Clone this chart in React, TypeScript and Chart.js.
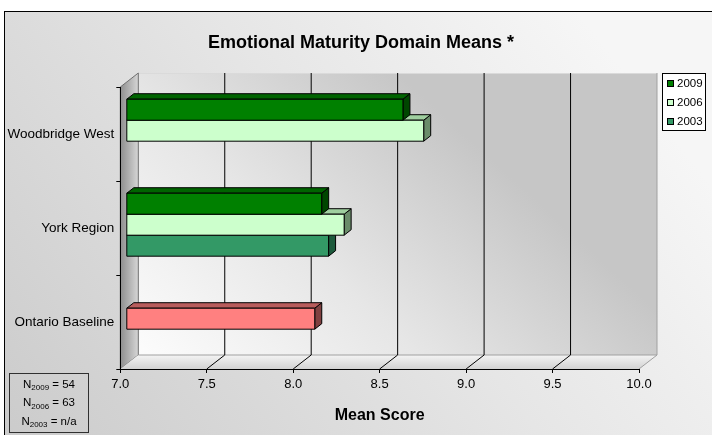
import React, { useEffect, useRef } from 'react';
import { Chart, registerables } from 'chart.js';

Chart.register(...registerables);

// ---------- data ----------
const categories = ['Woodbridge West', 'York Region', 'Ontario Baseline'];
const seriesNames = ['2009', '2006', '2003'];
const values2009: (number | null)[] = [8.6, 8.13, null];
const values2006: (number | null)[] = [8.72, 8.26, 8.09];
const values2003: (number | null)[] = [null, 8.17, null];
const xMin = 7.0;
const xMax = 10.0;
const xStep = 0.5;
const nYears = ['2009', '2006', '2003'];
const nValues = ['54', '63', 'n/a'];
const chartTitle = 'Emotional Maturity Domain Means *';
const xAxisTitle = 'Mean Score';

// ---------- styles ----------
const FONT = '"Liberation Sans", Arial, Helvetica, sans-serif';
const seriesFront = ['#008000', '#CCFFCC', '#339966'];
const seriesTop = ['#006400', '#9fcf9f', '#287a52'];
const seriesSide = ['#004600', '#6a8c6a', '#1d5a3c'];
const baselineFront = '#FF8080';
const baselineTop = '#b85c5c';
const baselineSide = '#804040';
const baselineIndex = 2; // Ontario Baseline drawn in its own colour

const WALL = { dx: 18, dy: -14 };
const BAR_OFF = { dx: 6, dy: -3.3 };
const BAR_DEPTH = { dx: 7, dy: -5.5 };

function faceColors(di: number, i: number) {
  if (i === baselineIndex) return { front: baselineFront, top: baselineTop, side: baselineSide };
  return { front: seriesFront[di], top: seriesTop[di], side: seriesSide[di] };
}

const decorPlugin = {
  id: 'decor',
  beforeDraw(chart: any) {
    const { ctx, chartArea: a } = chart;
    const W = chart.width;
    const H = chart.height;
    ctx.save();
    ctx.fillStyle = '#ffffff';
    ctx.fillRect(0, 0, W, H);
    const g = ctx.createLinearGradient(0, H, W * 0.8, 0);
    g.addColorStop(0, '#cbcbcb');
    g.addColorStop(0.6, '#e6e6e6');
    g.addColorStop(1, '#f6f6f6');
    ctx.fillStyle = g;
    ctx.fillRect(4.5, 11.5, W + 20, H + 20);
    ctx.strokeStyle = '#000';
    ctx.lineWidth = 1;
    ctx.strokeRect(4.5, 11.5, W + 20, H + 20);

    ctx.fillStyle = '#000';
    ctx.font = `bold 18px ${FONT}`;
    ctx.textAlign = 'center';
    ctx.textBaseline = 'middle';
    ctx.fillText(chartTitle, 361, 43);

    const L = a.left, R = a.right, T = a.top, B = a.bottom;
    const bL = L + WALL.dx, bR = R + WALL.dx, bT = T + WALL.dy, bB = B + WALL.dy;

    const gw = ctx.createLinearGradient(bL, bB, bL + 260, bT);
    gw.addColorStop(0, '#fcfcfc');
    gw.addColorStop(0.5, '#e6e6e6');
    gw.addColorStop(1, '#c6c6c6');
    ctx.fillStyle = gw;
    ctx.fillRect(bL, bT, bR - bL, bB - bT);
    ctx.strokeStyle = '#dadada';
    ctx.beginPath();
    ctx.moveTo(bL, bT + 0.5);
    ctx.lineTo(bR, bT + 0.5);
    ctx.stroke();

    const gs = ctx.createLinearGradient(L, 0, bL, 0);
    gs.addColorStop(0, '#8e8e8e');
    gs.addColorStop(1, '#d6d6d6');
    ctx.fillStyle = gs;
    ctx.beginPath();
    ctx.moveTo(L, T);
    ctx.lineTo(bL, bT);
    ctx.lineTo(bL, bB);
    ctx.lineTo(L, B);
    ctx.closePath();
    ctx.fill();
    ctx.strokeStyle = '#707070';
    ctx.stroke();

    const gf = ctx.createLinearGradient(0, bB, 0, B);
    gf.addColorStop(0, '#f4f4f4');
    gf.addColorStop(1, '#d2d2d2');
    ctx.fillStyle = gf;
    ctx.beginPath();
    ctx.moveTo(L, B);
    ctx.lineTo(R, B);
    ctx.lineTo(bR, bB);
    ctx.lineTo(bL, bB);
    ctx.closePath();
    ctx.fill();
    ctx.strokeStyle = '#a0a0a0';
    ctx.beginPath();
    ctx.moveTo(bL, bB);
    ctx.lineTo(bR, bB);
    ctx.lineTo(R, B);
    ctx.moveTo(bR, bB);
    ctx.lineTo(bR, bT);
    ctx.stroke();

    const xs = chart.scales.x;
    ctx.strokeStyle = '#000';
    ctx.lineWidth = 1;
    for (let v = xMin + xStep; v < xMax - 1e-9; v += xStep) {
      const px = xs.getPixelForValue(v);
      ctx.beginPath();
      ctx.moveTo(px + WALL.dx, bT);
      ctx.lineTo(px + WALL.dx, bB);
      ctx.moveTo(px, B);
      ctx.lineTo(px + WALL.dx, bB);
      ctx.stroke();
    }
    ctx.restore();
  },
  beforeDatasetsDraw(chart: any) {
    const ctx = chart.ctx;
    const bars: any[] = [];
    chart.data.datasets.forEach((ds: any, di: number) => {
      const meta = chart.getDatasetMeta(di);
      meta.data.forEach((el: any, i: number) => {
        if (ds.data[i] == null) return;
        const p = el.getProps(['x', 'y', 'base', 'height'], true);
        bars.push({ ...p, c: faceColors(di, i) });
      });
    });
    bars.sort((p, q) => q.y - p.y);
    ctx.save();
    ctx.lineWidth = 1;
    ctx.strokeStyle = '#000';
    ctx.lineJoin = 'round';
    for (const b of bars) {
      const x0 = b.base + BAR_OFF.dx;
      const x1 = b.x + BAR_OFF.dx;
      const yT = b.y - b.height / 2 + BAR_OFF.dy;
      const yB = b.y + b.height / 2 + BAR_OFF.dy;
      const dx = BAR_DEPTH.dx, dy = BAR_DEPTH.dy;
      ctx.fillStyle = b.c.side;
      ctx.beginPath();
      ctx.moveTo(x1, yT);
      ctx.lineTo(x1 + dx, yT + dy);
      ctx.lineTo(x1 + dx, yB + dy);
      ctx.lineTo(x1, yB);
      ctx.closePath();
      ctx.fill();
      ctx.stroke();
      ctx.fillStyle = b.c.top;
      ctx.beginPath();
      ctx.moveTo(x0, yT);
      ctx.lineTo(x0 + dx, yT + dy);
      ctx.lineTo(x1 + dx, yT + dy);
      ctx.lineTo(x1, yT);
      ctx.closePath();
      ctx.fill();
      ctx.stroke();
      ctx.fillStyle = b.c.front;
      ctx.fillRect(x0, yT, x1 - x0, yB - yT);
      ctx.strokeRect(x0, yT, x1 - x0, yB - yT);
    }
    ctx.restore();
    return false;
  },
  afterDraw(chart: any) {
    const ctx = chart.ctx;
    ctx.save();
    ctx.fillStyle = '#ffffff';
    ctx.fillRect(662.5, 73.5, 43, 57);
    ctx.strokeStyle = '#000';
    ctx.lineWidth = 1;
    ctx.strokeRect(662.5, 73.5, 43, 57);
    ctx.font = `11.5px ${FONT}`;
    ctx.textAlign = 'left';
    ctx.textBaseline = 'middle';
    seriesNames.forEach((name, k) => {
      const cy = 83.5 + k * 19;
      ctx.fillStyle = seriesFront[k];
      ctx.fillRect(667.5, cy - 3, 6, 6);
      ctx.strokeStyle = '#000';
      ctx.strokeRect(667.5, cy - 3, 6, 6);
      ctx.fillStyle = '#000';
      ctx.fillText(name, 677, cy + 0.5);
    });

    ctx.strokeStyle = '#303030';
    ctx.strokeRect(9.5, 373.5, 79, 59);
    const cx = 49;
    nYears.forEach((yr, k) => {
      const cy = 384.5 + k * 18.8;
      const big = `11.5px ${FONT}`;
      const small = `8px ${FONT}`;
      ctx.font = big;
      const wN = ctx.measureText('N').width;
      const rest = ` = ${nValues[k]}`;
      const wR = ctx.measureText(rest).width;
      ctx.font = small;
      const wS = ctx.measureText(yr).width;
      let x = cx - (wN + wS + wR) / 2;
      ctx.fillStyle = '#000';
      ctx.textBaseline = 'middle';
      ctx.font = big;
      ctx.fillText('N', x, cy);
      x += wN;
      ctx.font = small;
      ctx.fillText(yr, x, cy + 3);
      x += wS;
      ctx.font = big;
      ctx.fillText(rest, x, cy);
    });
    ctx.restore();
  },
};

export default function App() {
  const ref = useRef<HTMLCanvasElement | null>(null);
  useEffect(() => {
    if (!ref.current) return;
    Chart.defaults.font.family = FONT;
    Chart.defaults.color = '#000';
    const chart = new Chart(ref.current, {
      type: 'bar',
      data: {
        labels: categories,
        datasets: [
          { label: seriesNames[0], data: values2009, backgroundColor: seriesFront[0], base: xMin },
          {
            label: seriesNames[1],
            data: values2006,
            base: xMin,
            backgroundColor: categories.map((_, i) => (i === baselineIndex ? baselineFront : seriesFront[1])),
          },
          { label: seriesNames[2], data: values2003, backgroundColor: seriesFront[2], base: xMin },
        ],
      },
      options: {
        indexAxis: 'y',
        responsive: false,
        animation: false,
        layout: { padding: { top: 87, right: 73, bottom: 0, left: 0 } },
        datasets: { bar: { categoryPercentage: 0.67, barPercentage: 1 } },
        plugins: {
          legend: { display: false },
          title: { display: false },
          tooltip: { enabled: false },
        },
        scales: {
          x: {
            type: 'linear',
            min: xMin,
            max: xMax,
            ticks: {
              stepSize: xStep,
              callback: (v: any) => Number(v).toFixed(1),
              color: '#000',
              font: { size: 13 },
              padding: 4,
              maxRotation: 0,
            },
            grid: { drawOnChartArea: false, drawTicks: true, tickLength: 4, color: '#000' },
            border: { display: true, color: '#000' },
            title: {
              display: true,
              text: xAxisTitle,
              color: '#000',
              font: { size: 16, weight: 'bold' },
              padding: { top: 0, bottom: 10 },
            },
            afterFit: (s: any) => {
              s.height = 66;
            },
          },
          y: {
            type: 'category',
            ticks: { color: '#000', font: { size: 13.5 }, padding: 2, autoSkip: false },
            grid: { offset: true, drawOnChartArea: false, tickLength: 4, color: '#000' },
            border: { display: true, color: '#000' },
            afterFit: (s: any) => {
              s.width = 120.3;
            },
          },
        },
      } as any,
      plugins: [decorPlugin as any],
    });
    return () => chart.destroy();
  }, []);
  return (
    <div style={{ position: 'absolute', left: 0, top: 0, width: 712, height: 435 }}>
      <canvas ref={ref} width={712} height={435} style={{ width: 712, height: 435, display: 'block' }} />
    </div>
  );
}
